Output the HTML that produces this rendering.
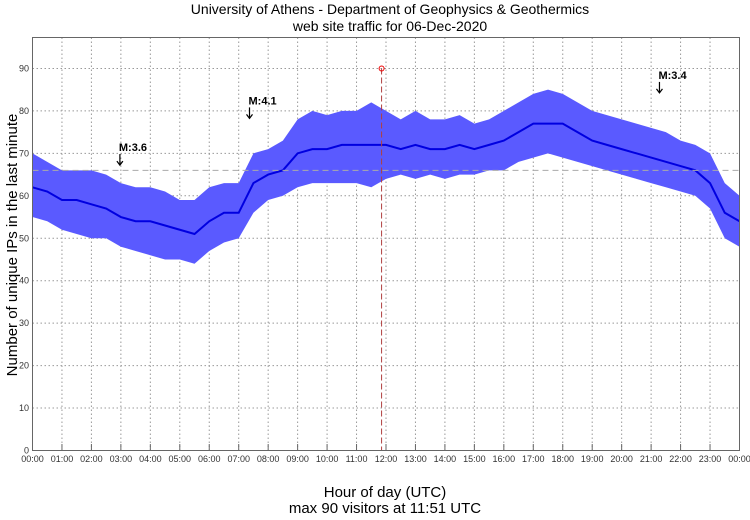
<!DOCTYPE html>
<html><head><meta charset="utf-8"><style>
body{margin:0;background:#fff;font-family:"Liberation Sans",sans-serif}
</style></head><body>
<svg id="c" width="750" height="515" xmlns="http://www.w3.org/2000/svg" font-family="Liberation Sans, sans-serif">
<text x="390" y="14" text-anchor="middle" font-size="14">University of Athens - Department of Geophysics &amp; Geothermics</text>
<text x="390" y="31" text-anchor="middle" font-size="14">web site traffic for 06-Dec-2020</text>
<text transform="translate(17,245) rotate(-90)" text-anchor="middle" font-size="15">Number of unique IPs in the last minute</text>
<text x="385" y="497" text-anchor="middle" font-size="15">Hour of day (UTC)</text>
<text x="385" y="513" text-anchor="middle" font-size="15">max 90 visitors at 11:51 UTC</text>
<g id="grid"></g><g id="series"></g><g id="anno"></g>
<rect x="32.5" y="37.5" width="707" height="413" fill="none" stroke="#666"/>
</svg>
<script>
const hours=[0,0.5,1,1.5,2,2.5,3,3.5,4,4.5,5,5.5,6,6.5,7,7.5,8,8.5,9,9.5,10,10.5,11,11.5,12,12.5,13,13.5,14,14.5,15,15.5,16,16.5,17,17.5,18,18.5,19,19.5,20,20.5,21,21.5,22,22.5,23,23.5,24];
const lowVals=[55,54,52,51,50,50,48,47,46,45,45,44,47,49,50,56,59,60,62,63,63,63,63,62,64,65,64,65,64,65,65,66,66,68,69,70,69,68,67,66,65,64,63,62,61,60,57,50,48];
const highVals=[70,68,66,66,66,65,63,62,62,61,59,59,62,63,63,70,71,73,78,80,79,80,80,82,80,78,80,78,78,79,77,78,80,82,84,85,84,82,80,79,78,77,76,75,73,72,70,63,60];
const midVals=[62,61,59,59,58,57,55,54,54,53,52,51,54,56,56,63,65,66,70,71,71,72,72,72,72,71,72,71,71,72,71,72,73,75,77,77,77,75,73,72,71,70,69,68,67,66,63,56,54];
const yTicks=[0,10,20,30,40,50,60,70,80,90];
const xTickLabels=["00:00","01:00","02:00","03:00","04:00","05:00","06:00","07:00","08:00","09:00","10:00","11:00","12:00","13:00","14:00","15:00","16:00","17:00","18:00","19:00","20:00","21:00","22:00","23:00","00:00"];
const meanVal=66;
const maxHour=11+51/60, maxVal=90;
const quakes=[{h:2+58/60,v:67,label:"M:3.6"},{h:7+22/60,v:78,label:"M:4.1"},{h:21+17/60,v:84,label:"M:3.4"}];
const X=h=>32.5+h*29.458, Y=v=>450.5-v*4.245;
const NS="http://www.w3.org/2000/svg";
function mk(p,t,a){const e=document.createElementNS(NS,t);for(const k in a)e.setAttribute(k,a[k]);p.appendChild(e);return e;}
const grid=document.getElementById('grid'),ser=document.getElementById('series'),an=document.getElementById('anno');
yTicks.forEach(v=>{
 if(v>0){const l=mk(grid,'line',{x1:32.5,x2:739.5,y1:Y(v),y2:Y(v),stroke:'#999','stroke-dasharray':'1.5,2.5'});
 
 }
 const t=mk(grid,'text',{x:29,y:Y(v)+3,'text-anchor':'end','font-size':9,fill:'#333'});t.textContent=v;
 
 
});
xTickLabels.forEach((s,i)=>{
 const x=X(i);
 if(i>0&&i<24){const l=mk(grid,'line',{x1:x,x2:x,y1:37.5,y2:450.5,stroke:'#999','stroke-dasharray':'1.5,2.5'});
 
 
 mk(grid,'line',{x1:x,x2:x,y1:444,y2:450.5,stroke:'#666'});}
 const t=mk(grid,'text',{x:x,y:462,'text-anchor':'middle','font-size':9,fill:'#333'});t.textContent=s;
 
 
});
let pts=hours.map((h,i)=>X(h)+','+Y(highVals[i])).concat(hours.slice().reverse().map((h,j)=>{const i=hours.length-1-j;return X(h)+','+Y(lowVals[i]);}));
const band=mk(ser,'polygon',{points:pts.join(' '),fill:'#5a5aff'});


const line=mk(ser,'polyline',{points:hours.map((h,i)=>X(h)+','+Y(midVals[i])).join(' '),fill:'none',stroke:'#0000e0','stroke-width':2});


const mean=mk(an,'line',{x1:32.5,x2:739.5,y1:Y(meanVal),y2:Y(meanVal),stroke:'#aaa','stroke-dasharray':'6,4'});


const vl=mk(an,'line',{x1:X(maxHour),x2:X(maxHour),y1:Y(maxVal),y2:450.5,stroke:'#b04040','stroke-dasharray':'6,3'});


const mc=mk(an,'circle',{cx:X(maxHour),cy:Y(maxVal),r:2.5,fill:'none',stroke:'#e00'});


quakes.forEach(q=>{
 const x=X(q.h),y=Y(q.v);
 const g=mk(an,'g',{});
 
 
 mk(g,'line',{x1:x,x2:x,y1:y-12,y2:y-1,stroke:'#000','stroke-width':1.2});
 mk(g,'path',{d:`M${x-3},${y-5} L${x},${y-1} L${x+3},${y-5}`,fill:'none',stroke:'#000','stroke-width':1.2});
 const t=mk(g,'text',{x:x-1,y:y-15,'font-size':11,'font-weight':'bold'});t.textContent=q.label;
});
</script>
</body></html>
